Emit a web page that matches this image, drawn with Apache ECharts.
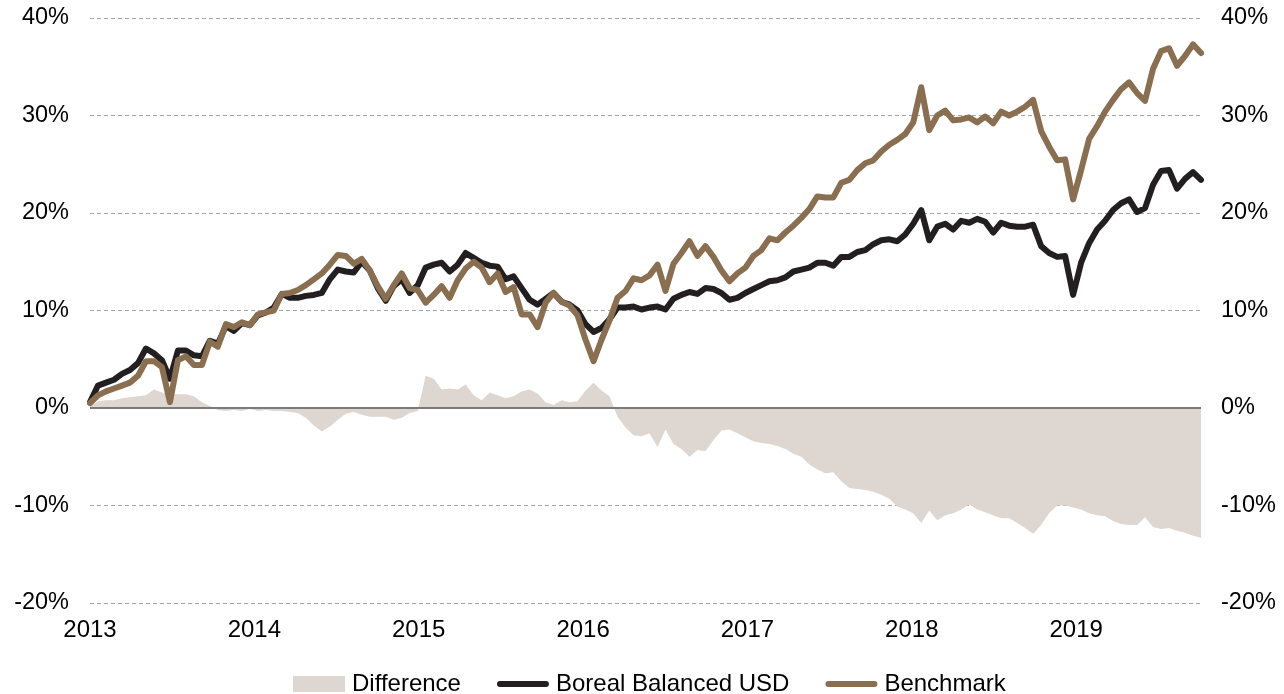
<!DOCTYPE html>
<html>
<head>
<meta charset="utf-8">
<title>Boreal Balanced USD vs Benchmark</title>
<script src="https://cdn.jsdelivr.net/npm/echarts@6/dist/echarts.min.js"></script>
<style>
  html, body { margin: 0; padding: 0; background: #fff; }
  #chart { width: 1284px; height: 694px; }
</style>
</head>
<body>
<div id="chart"></div>
<script>
// cumulative performance in %, one point roughly every 2.5 weeks from start of 2013
const startYear = 2013
const stepYears = 0.04863

const fund = [
  0.6, 2.3, 2.6, 2.9, 3.5, 3.9, 4.6, 6.1, 5.6, 4.9,
  3.0, 5.9, 5.9, 5.4, 5.3, 6.9, 6.6, 8.4, 7.9, 8.7,
  8.5, 9.5, 9.8, 10.3, 11.7, 11.3, 11.3, 11.5, 11.6, 11.8,
  13.2, 14.2, 14.0, 13.9, 15.0, 14.1, 12.3, 11.0, 12.5, 13.2,
  11.8, 12.6, 14.4, 14.7, 14.9, 14.0, 14.7, 15.9, 15.4, 14.9,
  14.6, 14.5, 13.2, 13.5, 12.3, 11.1, 10.6, 11.2, 11.8, 10.9,
  10.6, 10.0, 8.6, 7.8, 8.2, 9.1, 10.3, 10.3, 10.4, 10.1,
  10.3, 10.4, 10.1, 11.2, 11.6, 11.9, 11.7, 12.3, 12.2, 11.8,
  11.1, 11.3, 11.8, 12.2, 12.6, 13.0, 13.1, 13.4, 14.0, 14.2,
  14.4, 14.9, 14.9, 14.6, 15.5, 15.5, 16.0, 16.2, 16.8, 17.2,
  17.3, 17.1, 17.8, 18.9, 20.3, 17.2, 18.6, 18.9, 18.3, 19.2,
  19.0, 19.4, 19.1, 18.0, 19.0, 18.7, 18.6, 18.6, 18.8, 16.6,
  15.9, 15.5, 15.6, 11.6, 14.9, 16.9, 18.3, 19.2, 20.3, 21.0,
  21.4, 20.1, 20.5, 22.9, 24.3, 24.4, 22.5, 23.5, 24.2, 23.4
]

const benchmark = [
  0.5, 1.3, 1.7, 2.0, 2.3, 2.6, 3.3, 4.8, 4.8, 4.2,
  0.6, 4.9, 5.3, 4.4, 4.4, 6.8, 6.3, 8.6, 8.3, 8.8,
  8.5, 9.6, 9.8, 10.0, 11.7, 11.8, 12.1, 12.6, 13.2, 13.8,
  14.7, 15.7, 15.6, 14.8, 15.3, 14.1, 12.5, 11.2, 12.6, 13.8,
  12.3, 12.1, 10.8, 11.6, 12.5, 11.3, 13.1, 14.3, 15.0, 14.4,
  12.9, 13.8, 11.9, 12.4, 9.6, 9.6, 8.3, 10.8, 11.8, 10.9,
  10.5, 9.5, 7.0, 4.8, 7.0, 9.0, 11.3, 12.0, 13.3, 13.1,
  13.6, 14.7, 12.0, 14.8, 15.9, 17.1, 15.6, 16.6, 15.5, 14.1,
  13.0, 13.8, 14.4, 15.6, 16.2, 17.4, 17.2, 18.0, 18.7, 19.5,
  20.4, 21.7, 21.6, 21.6, 23.1, 23.4, 24.4, 25.1, 25.4, 26.3,
  27.0, 27.5, 28.1, 29.3, 32.9, 28.5, 30.0, 30.5, 29.5, 29.6,
  29.8, 29.3, 29.9, 29.2, 30.4, 30.0, 30.4, 30.9, 31.6, 28.4,
  26.8, 25.4, 25.5, 21.4, 24.4, 27.6, 28.9, 30.4, 31.6, 32.7,
  33.4, 32.3, 31.5, 34.8, 36.6, 36.9, 35.1, 36.1, 37.3, 36.4
]

const difference = [
  0.2, 0.7, 0.8, 0.8, 1.0, 1.1, 1.2, 1.3, 1.9, 1.6,
  1.4, 1.4, 1.4, 1.2, 0.6, 0.2, -0.2, -0.3, -0.2, -0.3,
  -0.1, -0.3, -0.2, -0.3, -0.3, -0.4, -0.5, -1.0, -1.8, -2.4,
  -1.9, -1.2, -0.6, -0.4, -0.7, -0.9, -0.9, -0.9, -1.2, -1.0,
  -0.5, -0.3, 3.3, 3.0, 1.9, 2.0, 1.9, 2.4, 1.3, 0.8,
  1.6, 1.3, 1.0, 1.2, 1.7, 1.9, 1.5, 0.6, 0.3, 0.8,
  0.6, 0.7, 1.8, 2.6, 1.8, 1.2, -0.9, -2.0, -2.8, -2.9,
  -2.6, -4.0, -2.2, -3.7, -4.2, -5.0, -4.3, -4.4, -3.3, -2.3,
  -2.2, -2.6, -3.0, -3.4, -3.6, -3.7, -3.9, -4.2, -4.7, -5.0,
  -5.8, -6.3, -6.7, -6.6, -7.5, -8.2, -8.3, -8.4, -8.6, -8.9,
  -9.3, -10.1, -10.4, -10.8, -11.8, -10.5, -11.5, -11.0, -10.8, -10.4,
  -9.9, -10.4, -10.7, -11.0, -11.3, -11.3, -11.8, -12.3, -12.9, -12.0,
  -10.8, -10.0, -10.0, -10.2, -10.4, -10.8, -11.0, -11.1, -11.6, -11.9,
  -12.0, -12.0, -11.2, -12.2, -12.4, -12.3, -12.6, -12.8, -13.1, -13.3
]

const yTicks = [-20, -10, 0, 10, 20, 30, 40]

const seriesNames = ['Difference', 'Boreal Balanced USD', 'Benchmark']
const colors = {
  diff: '#ddd6d1',
  fund: '#231f20',
  bench: '#8a6e50'
}

// thick bar with rounded ends for the line legend entries
const lineIcon = 'path://M3,0 L49,0 A3,3 0 0 1 49,6 L3,6 A3,3 0 0 1 3,0 Z'

const years = fund.map((v, i) => startYear + i * stepYears)
const pairs = arr => arr.map((v, i) => [years[i], v])

const chart = echarts.init(document.getElementById('chart'))

const labelFont = {
  fontFamily: '"Liberation Sans", Arial, sans-serif',
  fontSize: 24,
  color: '#000'
}

chart.setOption({
  animation: false,
  grid: {
    left: 90,
    right: 83,
    top: 18,
    bottom: 91
  },
  legend: {
    top: 667,
    left: 288,
    itemWidth: 52,
    itemHeight: 16,
    itemGap: 36,
    symbolKeepAspect: true,
    textStyle: Object.assign({}, labelFont, { padding: [0, 0, 0, 2] }),
    data: [
      { name: seriesNames[0], icon: 'rect', itemStyle: { color: colors.diff } },
      { name: seriesNames[1], icon: lineIcon, itemStyle: { color: colors.fund } },
      { name: seriesNames[2], icon: lineIcon, itemStyle: { color: colors.bench } }
    ]
  },
  xAxis: {
    type: 'value',
    min: startYear,
    max: years[years.length - 1],
    interval: 1,
    axisLine: { show: false },
    axisTick: { show: false },
    splitLine: { show: false },
    axisLabel: Object.assign({}, labelFont, {
      margin: 15,
      showMaxLabel: false,
      formatter: v => String(Math.round(v))
    })
  },
  yAxis: [
    {
      type: 'value',
      min: yTicks[0],
      max: yTicks[yTicks.length - 1],
      interval: 10,
      axisLine: { show: false },
      axisTick: { show: false },
      axisLabel: Object.assign({}, labelFont, { fontSize: 23.5, margin: 21, formatter: '{value}%' }),
      splitLine: {
        show: true,
        lineStyle: { color: '#a5a5a5', width: 1, type: [4, 3] }
      }
    },
    {
      type: 'value',
      position: 'right',
      min: yTicks[0],
      max: yTicks[yTicks.length - 1],
      interval: 10,
      axisLine: { show: false },
      axisTick: { show: false },
      axisLabel: Object.assign({}, labelFont, { fontSize: 23.5, margin: 20, formatter: '{value}%' }),
      splitLine: { show: false }
    }
  ],
  series: [
    {
      name: seriesNames[0],
      type: 'line',
      data: pairs(difference),
      showSymbol: false,
      symbol: 'none',
      color: colors.diff,
      lineStyle: { width: 0 },
      areaStyle: { color: colors.diff, opacity: 1 },
      markLine: {
        silent: true,
        symbol: 'none',
        label: { show: false },
        lineStyle: { color: '#7a7a7a', width: 2, type: 'solid' },
        data: [{ yAxis: 0 }]
      },
      z: 1
    },
    {
      name: seriesNames[1],
      type: 'line',
      data: pairs(fund),
      showSymbol: false,
      symbol: 'none',
      color: colors.fund,
      lineStyle: { width: 6, color: colors.fund, cap: 'round', join: 'round' },
      z: 3
    },
    {
      name: seriesNames[2],
      type: 'line',
      data: pairs(benchmark),
      showSymbol: false,
      symbol: 'none',
      color: colors.bench,
      lineStyle: { width: 6, color: colors.bench, cap: 'round', join: 'round' },
      z: 4
    }
  ]
})
</script>
</body>
</html>
